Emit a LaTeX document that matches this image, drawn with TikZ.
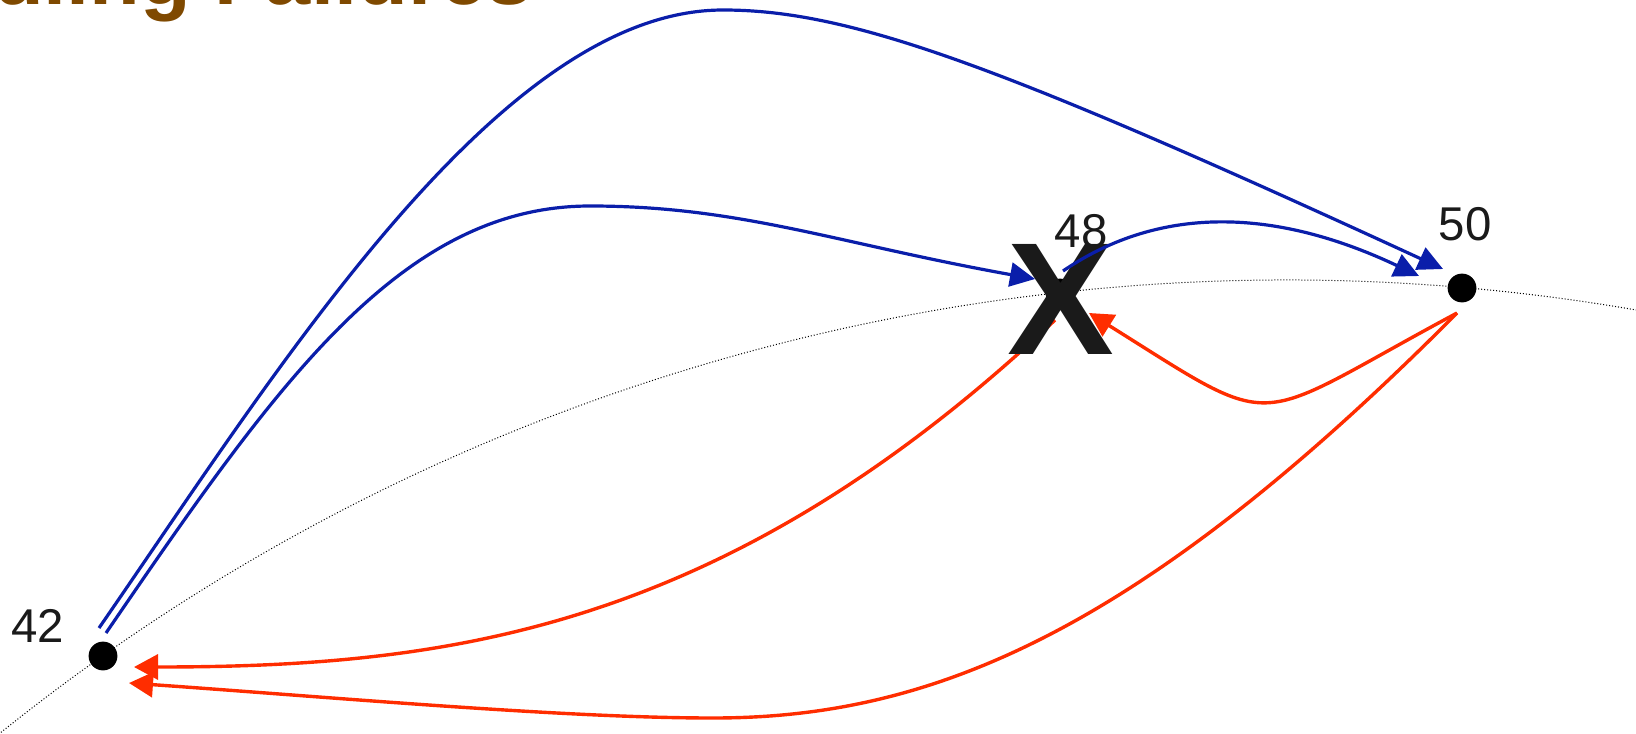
\documentclass[tikz,border=0pt]{standalone}
\usepackage{fontspec}
\setmainfont{Liberation Sans}
\usetikzlibrary{arrows.meta}
\definecolor{lnblue}{RGB}{10,30,170}
\definecolor{lnred}{RGB}{255,45,0}
\definecolor{ttlbrown}{RGB}{127,73,0}
\definecolor{ink}{RGB}{26,26,26}
\begin{document}
\begin{tikzpicture}[x=0.5pt,y=-0.5pt,
  dot/.style={circle,fill=black,inner sep=0pt,minimum size=14.4pt},
  lbl/.style={anchor=base,inner sep=0pt,text=ink,font=\fontsize{23.7pt}{24pt}\selectfont},
  blueline/.style={draw=lnblue,line width=1.6pt,-{Triangle[length=12.5pt,width=12pt]}},
  redline/.style={draw=lnred,line width=1.7pt,-{Triangle[length=12pt,width=12.5pt]}},
  ring/.style={line width=0.5pt,dash pattern=on 0.5pt off 1pt}]
\useasboundingbox (0,0) rectangle (1636,733);
\clip (0,0) rectangle (1636,733);
% title (cut at the top edge)
\node[anchor=base east,inner sep=0pt,text=ttlbrown,font=\fontsize{41.5pt}{42pt}\selectfont\bfseries] (title) at (533,5) {Handling Failures};
% ring
\coordinate (r0) at (-6,738);
\coordinate (r1) at (1642,311);
\draw[ring] (r0) .. controls (456,364) and (1057,208) .. (r1);
% nodes
\node[dot] (n42) at (103,656) {};
\node[dot] (n48) at (1060,293) {};
\node[dot] (n50) at (1462,288) {};
% connector end points
\coordinate (b1s) at (99,628);
\coordinate (b1p) at (723,10);
\coordinate (b1e) at (1443,269);
\coordinate (b2s) at (106,633);
\coordinate (b2p) at (590,206);
\coordinate (b2e) at (1035,279);
\coordinate (b3s) at (1063,271);
\coordinate (b3e) at (1419,276);
\coordinate (r1s) at (1055,320);
\coordinate (r1e) at (134,667);
\coordinate (r2s) at (1457,313);
\coordinate (r2p) at (713,718);
\coordinate (r2e) at (129,683);
\coordinate (r3s) at (1457,313);
\coordinate (r3e) at (1089,313);
% red connectors
\draw[redline] (r1s) .. controls (726,630) and (450,667) .. (r1e);
\draw[redline] (r2s) .. controls (1137,635) and (930,718) .. (r2p) .. controls (563,718) and (329,697) .. (r2e);
\draw[redline] (r3s) .. controls (1246,426) and (1284,435) .. (r3e);
% failure mark
\node[anchor=base,inner sep=0pt,text=ink,font=\fontsize{80pt}{80pt}\selectfont\bfseries] (xmark) at (1061,354) {X};
% blue connectors
\draw[blueline] (b1s) .. controls (280,366) and (500,10) .. (b1p) .. controls (850,10) and (1000,65) .. (b1e);
\draw[blueline] (b2s) .. controls (275,386) and (400,206) .. (b2p) .. controls (740,206) and (835,243) .. (b2e);
\draw[blueline] (b3s) .. controls (1170,198) and (1290,215) .. (b3e);
% labels
\node[lbl] (l42) at (38,642) {42};
\node[lbl] (l48) at (1081,247) {48};
\node[lbl] (l50) at (1465,240) {50};
\end{tikzpicture}
\end{document}
